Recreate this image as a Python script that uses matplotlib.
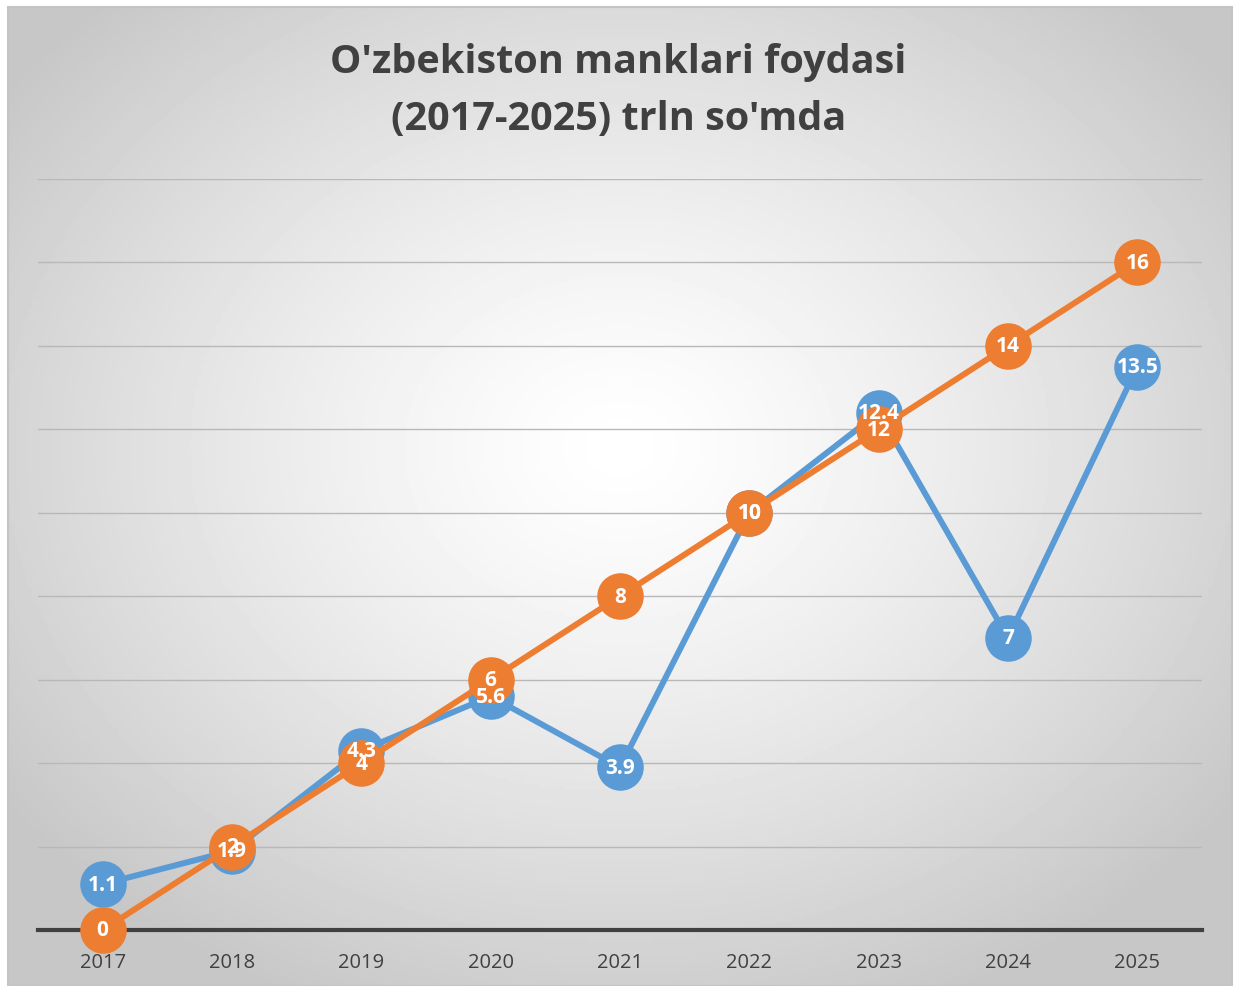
import numpy as np
import matplotlib.pyplot as plt
from matplotlib.patches import Rectangle

years = ["2017", "2018", "2019", "2020", "2021", "2022", "2023", "2024", "2025"]
blue_vals = [1.1, 1.9, 4.3, 5.6, 3.9, 10, 12.4, 7, 13.5]
orange_vals = [0, 2, 4, 6, 8, 10, 12, 14, 16]
blue_labels = ["1.1", "1.9", "4.3", "5.6", "3.9", "10", "12.4", "7", "13.5"]
orange_labels = ["0", "2", "4", "6", "8", "10", "12", "14", "16"]

plt.rcParams['font.family'] = ['Open Sans', 'DejaVu Sans']

W, H = 1237, 987
fig = plt.figure(figsize=(W / 100, H / 100), dpi=100)
fig.patch.set_facecolor("white")

# radial gradient background for the chart area
x0, y0, x1, y1 = 8, 8, 1232, 987
bg = fig.add_axes([x0 / W, 1 - y1 / H, (x1 - x0) / W, (y1 - y0) / H])
gx, gy = np.meshgrid(np.linspace(0, 1, 400), np.linspace(0, 1, 320))
r = np.sqrt(((gx - 0.5) / 0.62) ** 2 + ((gy - 0.45) / 0.62) ** 2)
r = np.clip(r, 0, 1)
shade = 1.0 - 0.22 * r ** 1.3
bg.imshow(shade, cmap="gray", vmin=0, vmax=1, aspect="auto", extent=[0, 1, 1, 0])
bg.set_xlim(0, 1)
bg.set_ylim(1, 0)
bg.axis("off")
fig.add_artist(Rectangle((x0 / W, 1 - y1 / H), (x1 - x0) / W, (y1 - y0) / H,
                         transform=fig.transFigure, fill=False,
                         edgecolor="#c4c4c4", linewidth=1.5))

ax = fig.add_axes([38 / W, 1 - 931 / H, (1202 - 38) / W, (931 - 180) / H])
ax.patch.set_alpha(0)
x = np.arange(len(years))

ax.plot(x, blue_vals, color="#5B9BD5", lw=4.3, marker="o", ms=33.5,
        markeredgewidth=0, zorder=3, solid_capstyle="round", clip_on=False)
ax.plot(x, orange_vals, color="#ED7D31", lw=4.3, marker="o", ms=33.5,
        markeredgewidth=0, zorder=4, solid_capstyle="round", clip_on=False)

for xi, v, t in zip(x, blue_vals, blue_labels):
    ax.text(xi, v, t, color="white", fontsize=15, fontweight="bold",
            ha="center", va="center", zorder=6)
for xi, v, t in zip(x, orange_vals, orange_labels):
    ax.text(xi, v, t, color="white", fontsize=15, fontweight="bold",
            ha="center", va="center", zorder=6)

ax.set_xlim(-0.5, len(years) - 0.5)
ax.set_ylim(0, 18)
ax.set_yticks(np.arange(0, 19, 2))
ax.set_yticklabels([])
ax.tick_params(axis="y", length=0)
ax.grid(axis="y", color="#b8b8b8", lw=1.0, zorder=0)
ax.set_xticks(x)
ax.set_xticklabels(years, fontsize=14.5, color="#404040")
ax.tick_params(axis="x", length=0, pad=16)
for s in ["top", "right", "left"]:
    ax.spines[s].set_visible(False)
ax.spines["bottom"].set_color("#404040")
ax.spines["bottom"].set_linewidth(3)
ax.spines["bottom"].set_zorder(2)

fig.text(0.5, 1 - 62 / H, "O'zbekiston manklari foydasi", ha="center", va="center",
         fontsize=28.5, fontweight="bold", color="#404040")
fig.text(0.5, 1 - 120 / H, "(2017-2025) trln so'mda", ha="center", va="center",
         fontsize=28.5, fontweight="bold", color="#404040")

fig.savefig("out.png", dpi=100)
